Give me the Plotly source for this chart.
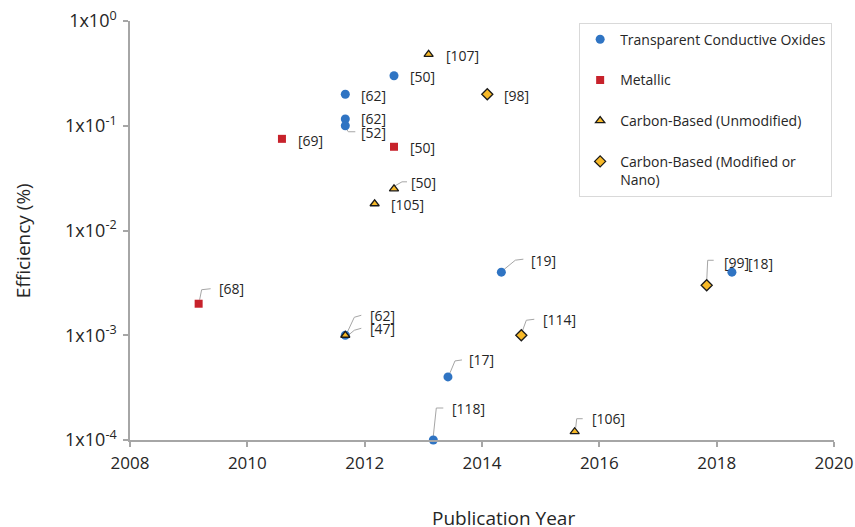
import math
import plotly.graph_objects as go

# ---------------- data ----------------
tco_year = [2011.67, 2011.67, 2011.67, 2012.5, 2014.33, 2013.42, 2013.17, 2018.26, 2011.67]
tco_eff = [0.2, 0.116, 0.1, 0.3, 0.004, 0.0004, 0.0001, 0.004, 0.001]
tco_ref = ["[62]", "[62]", "[52]", "[50]", "[19]", "[17]", "[118]", "[18]", "[62]"]

met_year = [2010.59, 2012.5, 2009.17]
met_eff = [0.075, 0.063, 0.002]
met_ref = ["[69]", "[50]", "[68]"]

cbu_year = [2013.09, 2012.5, 2012.17, 2011.67, 2015.58]
cbu_eff = [0.48, 0.025, 0.018, 0.001, 0.00012]
cbu_ref = ["[107]", "[50]", "[105]", "[47]", "[106]"]

cbm_year = [2014.09, 2014.67, 2017.83]
cbm_eff = [0.2, 0.001, 0.003]
cbm_ref = ["[98]", "[114]", "[99]"]

series_names = ["Transparent Conductive Oxides", "Metallic",
                "Carbon-Based (Unmodified)", "Carbon-Based (Modified or<br>Nano)"]

x_ticks = [2008, 2010, 2012, 2014, 2016, 2018, 2020]
y_ticks = [1e-4, 1e-3, 1e-2, 1e-1, 1]
y_tick_text = ["1x10<sup>-4</sup>", "1x10<sup>-3</sup>", "1x10<sup>-2</sup>",
               "1x10<sup>-1</sup>", "1x10<sup>0</sup>"]

x_title = "Publication Year"
y_title = "Efficiency (%)"

# ---------------- style: label offsets (px, screen, y down) and leader paths ----------------
tco_style = [
    (14, 1, None),
    (14, -1, None),
    (14, 7, [(1, 3), (3, 6), (10, 6)]),
    (14, 1, None),
    (28, -12, [(3, -3), (14, -12), (22, -13)]),
    (19, -17, [(2, -4), (7, -16), (14, -17)]),
    (17, -32, [(0, -4), (3, -32), (10, -32)]),
    (14, -9, [(0, -3), (0, -9)]),
    (23, -20, [(2, -3), (9, -18), (16, -20)]),
]
met_style = [
    (14, 2, None),
    (14, 1, None),
    (18, -15, [(1, -4), (3, -14), (12, -15)]),
]
cbu_style = [
    (15, 1, None),
    (15, -6, [(1, -3), (8, -7), (13, -7)]),
    (14, 1, None),
    (23, -7, [(3, 0), (9, -5), (16, -7)]),
    (15, -13, [(1, -4), (2, -13), (8, -13)]),
]
cbm_style = [
    (15, 1, None),
    (20, -16, [(1, -4), (5, -15), (13, -16)]),
    (15, -23, [(0, -4), (1, -25), (7, -25)]),
]

FONT = "Open Sans, Noto Sans, sans-serif"
AXIS_GRAY = "#a6a6a6"
TEXT = "#262626"

fig = go.Figure()

marker_styles = [
    dict(symbol="circle", size=9, color="#2f74c3", line=dict(width=0)),
    dict(symbol="square", size=8, color="#c7222b", line=dict(width=0)),
    dict(symbol="triangle-up", size=8, color="#f7b928", line=dict(width=1.3, color="#1a1a1a")),
    dict(symbol="diamond", size=8.5, color="#f7b928", line=dict(width=1.3, color="#1a1a1a")),
]

all_series = [
    (tco_year, tco_eff, tco_ref, tco_style),
    (met_year, met_eff, met_ref, met_style),
    (cbu_year, cbu_eff, cbu_ref, cbu_style),
    (cbm_year, cbm_eff, cbm_ref, cbm_style),
]

annotations = []
shapes = []
for i, (xs, ys, refs, styles) in enumerate(all_series):
    fig.add_trace(go.Scatter(
        x=xs, y=ys, mode="markers", name=series_names[i],
        legendgroup=f"g{i}", marker=marker_styles[i], cliponaxis=False,
        hoverinfo="x+y+name",
    ))
    for x, y, r, (dx, dy, pts) in zip(xs, ys, refs, styles):
        annotations.append(dict(
            x=x, y=math.log10(y), xref="x", yref="y", text=r, showarrow=False,
            xanchor="left", yanchor="middle", xshift=dx, yshift=-dy,
            font=dict(family=FONT, size=14, color=TEXT),
        ))
        if pts:
            path = "M " + " L ".join(f"{px},{-py}" for px, py in pts)
            shapes.append(dict(
                type="path", xref="x", yref="y", xsizemode="pixel", ysizemode="pixel",
                xanchor=x, yanchor=y, path=path,
                line=dict(color=AXIS_GRAY, width=1), layer="below",
            ))

# axis titles as paper-positioned annotations
annotations.append(dict(
    x=-0.152, y=0.477, xref="paper", yref="paper", text=y_title, textangle=-90,
    showarrow=False, xanchor="center", yanchor="middle",
    font=dict(family=FONT, size=19, color=TEXT),
))
annotations.append(dict(
    x=0.53, y=-0.187, xref="paper", yref="paper", text=x_title,
    showarrow=False, xanchor="center", yanchor="middle",
    font=dict(family=FONT, size=19, color=TEXT),
))

fig.update_layout(
    width=855, height=527,
    margin=dict(l=130, r=21, t=21, b=87, autoexpand=False),
    paper_bgcolor="white", plot_bgcolor="white",
    font=dict(family=FONT, color=TEXT),
    annotations=annotations,
    shapes=shapes,
    showlegend=True,
    legend=dict(
        x=0.638, y=0.996, xanchor="left", yanchor="top",
        bordercolor="#d9d9d9", borderwidth=1, bgcolor="white",
        font=dict(family=FONT, size=14, color=TEXT),
        tracegroupgap=19.5, valign="top", itemwidth=30,
    ),
    xaxis=dict(
        range=[2008, 2020], tickvals=x_ticks, ticktext=[str(v) for v in x_ticks],
        showgrid=False, zeroline=False, showline=True, linecolor=AXIS_GRAY, linewidth=1.5,
        ticks="outside", ticklen=5, tickwidth=1.5, tickcolor=AXIS_GRAY,
        tickfont=dict(family=FONT, size=17, color=TEXT), ticklabelstandoff=2,
        ticklabeloverflow="allow",
    ),
    yaxis=dict(
        type="log", range=[-4, 0], tickvals=y_ticks, ticktext=y_tick_text,
        showgrid=False, zeroline=False, showline=True, linecolor=AXIS_GRAY, linewidth=1.5,
        ticks="outside", ticklen=5, tickwidth=1.5, tickcolor=AXIS_GRAY,
        tickfont=dict(family=FONT, size=18, color=TEXT), ticklabelstandoff=3,
        ticklabeloverflow="allow",
    ),
    xaxis2=dict(
        overlaying="x", anchor="y", side="bottom", range=[2008, 2020], tickvals=x_ticks,
        showticklabels=False, showgrid=False, zeroline=False, showline=False,
        ticks="inside", ticklen=5, tickwidth=1.5, tickcolor=AXIS_GRAY,
    ),
    yaxis2=dict(
        overlaying="y", anchor="x", side="left", type="log", range=[-4, 0], tickvals=y_ticks,
        showticklabels=False, showgrid=False, zeroline=False, showline=False,
        ticks="inside", ticklen=5, tickwidth=1.5, tickcolor=AXIS_GRAY,
    ),
)

# remove the default page margin so the figure fills the window exactly
fig.write_html(
    "out.html",
    config={"displayModeBar": False},
    post_script="document.body.style.margin='0';document.body.style.overflow='hidden';",
)
